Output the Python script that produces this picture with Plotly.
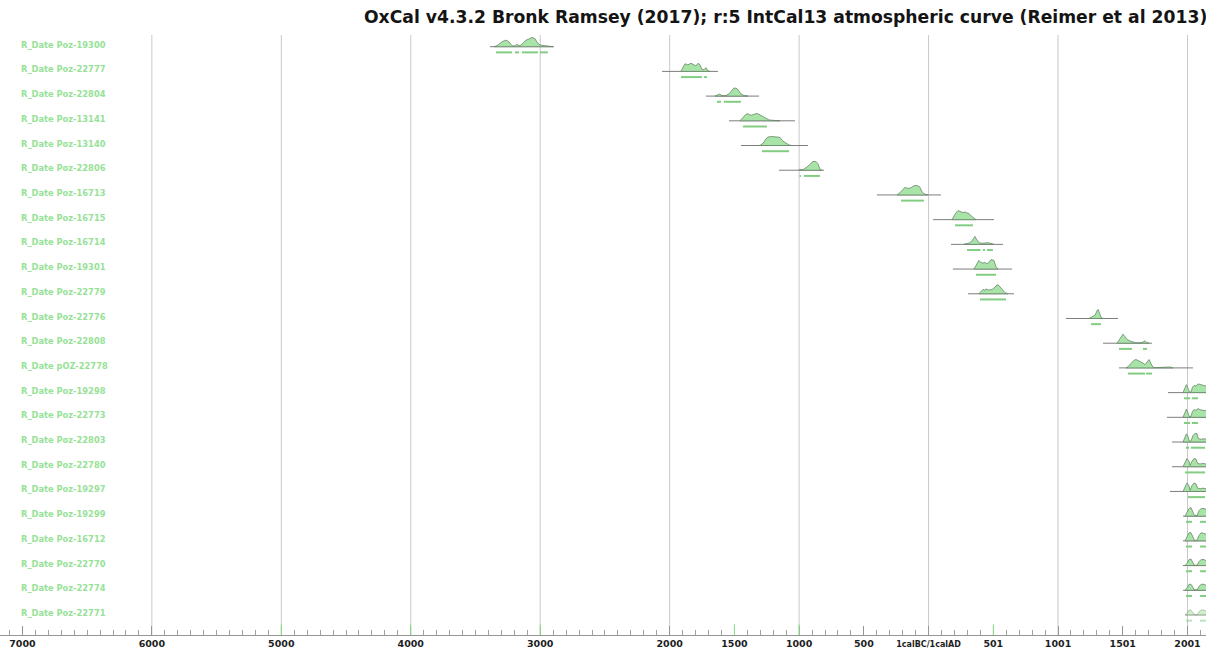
import plotly.graph_objects as go

# ---------------- data (calendar years: BC negative, AD positive) ----------------
LABELS = [
    "R_Date Poz-19300", "R_Date Poz-22777", "R_Date Poz-22804", "R_Date Poz-13141",
    "R_Date Poz-13140", "R_Date Poz-22806", "R_Date Poz-16713", "R_Date Poz-16715",
    "R_Date Poz-16714", "R_Date Poz-19301", "R_Date Poz-22779", "R_Date Poz-22776",
    "R_Date Poz-22808", "R_Date pOZ-22778", "R_Date Poz-19298", "R_Date Poz-22773",
    "R_Date Poz-22803", "R_Date Poz-22780", "R_Date Poz-19297", "R_Date Poz-19299",
    "R_Date Poz-16712", "R_Date Poz-22770", "R_Date Poz-22774", "R_Date Poz-22771",
]

RANGE_START = [-3388, -2059, -1720, -1542, -1449, -1156, -399, 34, 173, 188, 304, 1061,
               1348, 1471, 1849, 1841, 1880, 1880, 1865, 1965, 1965, 1965, 1965, 1981]
RANGE_END = [-2894, -1627, -1310, -1032, -932, -808, 96, 505, 575, 644, 660, 1463,
             1726, 2042, 2300, 2300, 2300, 2300, 2300, 2300, 2300, 2300, 2300, 2300]

MOD_YEARS = [1981, 1996, 2012, 2027, 2043, 2054, 2074, 2089, 2105, 2128, 2151, 2190, 2220]

DIST_YEARS = [
    [-3357, -3334, -3311, -3288, -3265, -3242, -3218, -3203, -3180, -3157, -3134, -3110,
     -3087, -3064, -3041, -3025, -3002, -2964, -2925, -2902],
    [-1913, -1898, -1882, -1859, -1835, -1812, -1797, -1781, -1766, -1751, -1735, -1720, -1704, -1689],
    [-1650, -1627, -1612, -1596, -1565, -1542, -1519, -1503, -1480, -1465, -1449, -1426, -1395],
    [-1457, -1434, -1411, -1395, -1372, -1349, -1326, -1303, -1279, -1256, -1233, -1187, -1148],
    [-1303, -1279, -1256, -1241, -1210, -1179, -1148, -1125, -1102, -1078, -1055],
    [-1001, -993, -978, -963, -939, -916, -893, -870, -855, -839, -824],
    [-244, -221, -199, -182, -160, -137, -113, -90, -66, -51, -36, -20, -5],
    [181, 204, 227, 250, 266, 281, 297, 312, 335, 351, 366],
    [273, 297, 320, 335, 351, 358, 374, 389, 412, 436, 459, 482, 505],
    [351, 366, 389, 405, 420, 436, 451, 467, 482, 505, 521, 536],
    [389, 405, 420, 436, 443, 459, 490, 513, 528, 544, 567, 590, 613],
    [1239, 1255, 1270, 1286, 1301, 1309, 1324, 1332, 1348],
    [1455, 1471, 1486, 1502, 1517, 1533, 1556, 1579, 1602, 1633, 1656, 1672, 1687, 1703],
    [1525, 1540, 1563, 1587, 1602, 1625, 1649, 1672, 1687, 1703, 1718, 1734, 1772, 1826, 1865, 1888],
    [1965, 1981, 1992, 2004, 2015, 2027, 2039, 2050, 2066, 2082, 2097, 2120, 2143, 2190, 2220],
    [1965, 1981, 1992, 2004, 2015, 2027, 2039, 2050, 2066, 2082, 2097, 2120, 2143, 2190, 2220],
    [1965, 1981, 1992, 2004, 2015, 2027, 2043, 2058, 2074, 2085, 2105, 2128, 2143, 2190, 2220],
    [1965, 1981, 1996, 2012, 2020, 2035, 2050, 2066, 2078, 2097, 2120, 2143, 2190, 2220],
    [1965, 1981, 1996, 2012, 2020, 2035, 2050, 2066, 2078, 2097, 2120, 2143, 2190, 2220],
    MOD_YEARS, MOD_YEARS, MOD_YEARS, MOD_YEARS, MOD_YEARS,
]

DIST_PROB = [
    [0, 1, 3, 5, 6, 4.5, 1, 0.5, 2, 0.8, 3, 6, 7, 8.5, 7.5, 4, 1.5, 1, 0.3, 0],
    [0, 4, 7, 6, 7.5, 6, 5, 7.5, 6, 2, 1.5, 3.5, 0.5, 0],
    [0, 1, 2, 0.3, 0.5, 2, 5, 7.5, 7, 5, 2, 0.5, 0],
    [0, 3, 6, 6.5, 5, 6, 6.8, 5.5, 4, 2, 0.8, 0.3, 0],
    [0, 2, 6, 7.8, 8.3, 8, 7.5, 4, 2, 0.5, 0],
    [0, 0.8, 0.3, 1, 3, 6, 8, 8, 6, 1, 0],
    [0, 2, 5, 7, 6, 6.5, 8.5, 8.7, 7, 3, 1, 0.3, 0],
    [0, 5, 8.3, 7.5, 6.5, 7, 6, 5.5, 3, 1, 0],
    [0, 1, 1.5, 3, 6, 7.3, 4, 1.5, 1, 1, 1.5, 0.8, 0],
    [0, 3, 8, 6, 5.5, 6, 5, 6, 8.7, 8, 2, 0],
    [0, 2, 4, 3, 4.5, 3.5, 3.8, 6, 8.3, 7.5, 4, 1, 0],
    [0, 1, 2, 3, 7, 8.3, 4, 1, 0],
    [0, 3, 6, 8.3, 6, 3.5, 2, 0.8, 0.3, 0.2, 1, 2.3, 0.5, 0],
    [0, 1, 4, 7, 7.7, 6.5, 5, 3, 5, 7.7, 4, 0.5, 0.3, 0.3, 0.8, 0],
    [0, 4, 7.3, 4, 0.5, 0.5, 5, 6.5, 6, 8, 7.5, 7, 6, 2, 0],
    [0, 4.5, 7.5, 4, 0.5, 0.8, 5.5, 7, 6.5, 8, 7, 6.5, 6, 2, 0],
    [0, 4, 7.5, 5, 0.5, 1, 6, 8, 7.5, 3, 2.5, 3, 2.5, 1, 0],
    [0, 4, 7.5, 5, 1, 5, 7.5, 7, 3, 2.5, 3, 2.5, 1, 0],
    [0, 4, 7.8, 5, 1, 5.5, 7.8, 7, 3, 2.5, 3, 2.5, 1, 0],
    [0, 3, 7, 8, 4, 0.5, 0.5, 5, 7, 7, 6, 2, 0],
    [0, 3, 7.5, 7.5, 4, 0.5, 0.5, 5, 7.5, 7, 6, 2, 0],
    [0, 2, 5.5, 6, 2.5, 0.3, 0.3, 3.5, 5.5, 5.5, 4, 1.5, 0],
    [0, 2, 5.5, 5.5, 2.5, 0.3, 0.3, 3.5, 5.5, 5.5, 4, 1.5, 0],
    [0, 1.5, 4.5, 4.5, 2, 0.3, 0.3, 3, 4.5, 4.5, 3, 1, 0],
]

HPD = [
    [(-3342, -3218), (-3195, -3164), (-3141, -3018), (-3002, -2941)],
    [(-1913, -1751), (-1735, -1712)],
    [(-1635, -1604), (-1581, -1449)],
    [(-1434, -1249)],
    [(-1287, -1078)],
    [(-997, -986), (-963, -839)],
    [(-213, -36)],
    [(204, 343)],
    [(297, 400), (420, 436), (451, 497)],
    [(366, 521)],
    [(397, 598)],
    [(1255, 1332)],
    [(1471, 1571), (1656, 1687)],
    [(1540, 1672), (1680, 1726)],
    [(1973, 2020), (2035, 2082)],
    [(1973, 2020), (2035, 2082)],
    [(1988, 2012), (2027, 2136)],
    [(1981, 2136)],
    [(2004, 2136)],
    [(1988, 2035), (2097, 2160)],
    [(1988, 2035), (2097, 2160)],
    [(1988, 2035), (2097, 2160)],
    [(1988, 2035), (2097, 2160)],
    [(1988, 2035), (2097, 2160)],
]

TICK_VALS = [-7000, -6000, -5000, -4000, -3000, -2000, -1500, -1000, -500, 0, 500, 1000, 1500, 2000]
TICK_TEXT = ["7000", "6000", "5000", "4000", "3000", "2000", "1500", "1000", "500",
             "1calBC/1calAD", "501", "1001", "1501", "2001"]
GRID_YEARS = [-6000, -5000, -4000, -3000, -2000, -1000, 0, 1000, 2000]
GREEN_MARKS = [-5000, -4000, -3000, -1500, -1000, 500]

TITLE = "OxCal v4.3.2 Bronk Ramsey (2017); r:5 IntCal13 atmospheric curve (Reimer et al 2013)"

# ---------------- figure ----------------
H = 0.044       # height scale of probability (rows per unit)
HPD_OFF = 0.23  # offset of range bars below baseline

fig = go.Figure()

for i, lab in enumerate(LABELS):
    faded = (i == len(LABELS) - 1)
    fill = "rgba(168,228,168,0.55)" if faded else "rgb(168,228,168)"
    edge = "rgba(105,135,105,0.5)" if faded else "rgb(105,135,105)"
    bar = "rgba(130,205,130,0.55)" if faded else "rgb(130,205,130)"
    rng = "rgba(125,125,125,0.6)" if faded else "rgb(125,125,125)"

    fig.add_trace(go.Scatter(
        x=[RANGE_START[i], RANGE_END[i]], y=[i, i], mode="lines",
        line=dict(color=rng, width=1), hoverinfo="skip", showlegend=False))

    xs = list(DIST_YEARS[i])
    ps = DIST_PROB[i]
    fig.add_trace(go.Scatter(
        x=xs + [xs[-1], xs[0]], y=[i - p * H for p in ps] + [i, i],
        mode="lines", fill="toself", fillcolor=fill,
        line=dict(color=edge, width=0.8), name=lab, showlegend=False))

    hx, hy = [], []
    for a, b in HPD[i]:
        hx += [a, b, None]
        hy += [i + HPD_OFF, i + HPD_OFF, None]
    fig.add_trace(go.Scatter(
        x=hx, y=hy, mode="lines", line=dict(color=bar, width=2),
        hoverinfo="skip", showlegend=False))

    fig.add_annotation(
        x=19 / 1206, xref="paper", y=i - 0.08, yref="y", text="<b>%s</b>" % lab,
        showarrow=False, xanchor="left", yanchor="middle",
        font=dict(family="DejaVu Sans", size=8.3, color="rgb(150,226,150)"))

shapes = []
for g in GRID_YEARS:
    shapes.append(dict(type="line", xref="x", yref="paper", x0=g, x1=g, y0=0, y1=1,
                       line=dict(color="rgb(200,200,200)", width=1), layer="below"))
for g in GREEN_MARKS:
    shapes.append(dict(type="line", xref="x", yref="paper", x0=g, x1=g, y0=0, y1=0.018,
                       line=dict(color="rgb(140,230,140)", width=1), layer="above"))

fig.add_annotation(
    x=1, xref="paper", xshift=3, y=1.03, yref="paper", text="<b>%s</b>" % TITLE,
    showarrow=False, xanchor="right", yanchor="middle",
    font=dict(family="DejaVu Sans", size=17.2, color="rgb(20,20,20)"))

tick_text = [('<span style="font-size:8px">%s</span>' % t) if len(t) > 5 else t
             for t in TICK_TEXT]

fig.update_layout(
    width=1206, height=650,
    margin=dict(l=0, r=0, t=35, b=15, autoexpand=False),
    plot_bgcolor="white", paper_bgcolor="white",
    shapes=shapes, showlegend=False,
    xaxis=dict(
        range=[-7173, 2143], tickmode="array", tickvals=TICK_VALS, ticktext=tick_text,
        ticks="inside", ticklen=9, tickcolor="rgb(150,150,150)", tickwidth=1,
        showgrid=False, zeroline=False, showline=True, linecolor="rgb(150,150,150)",
        linewidth=1, automargin=False, ticklabelstandoff=0,
        tickfont=dict(family="DejaVu Sans", size=9.5, color="rgb(30,30,30)", weight="bold"),
        minor=dict(tick0=0, dtick=100, ticks="inside", ticklen=5,
                   tickcolor="rgb(160,160,160)", showgrid=False),
        fixedrange=True,
    ),
    yaxis=dict(range=[23.81, -0.473], visible=False, showgrid=False, zeroline=False,
               fixedrange=True, automargin=False),
)

fig.write_html(
    "out.html",
    config={"displayModeBar": False},
    post_script="document.body.style.margin='0';document.body.style.overflow='hidden';",
)
